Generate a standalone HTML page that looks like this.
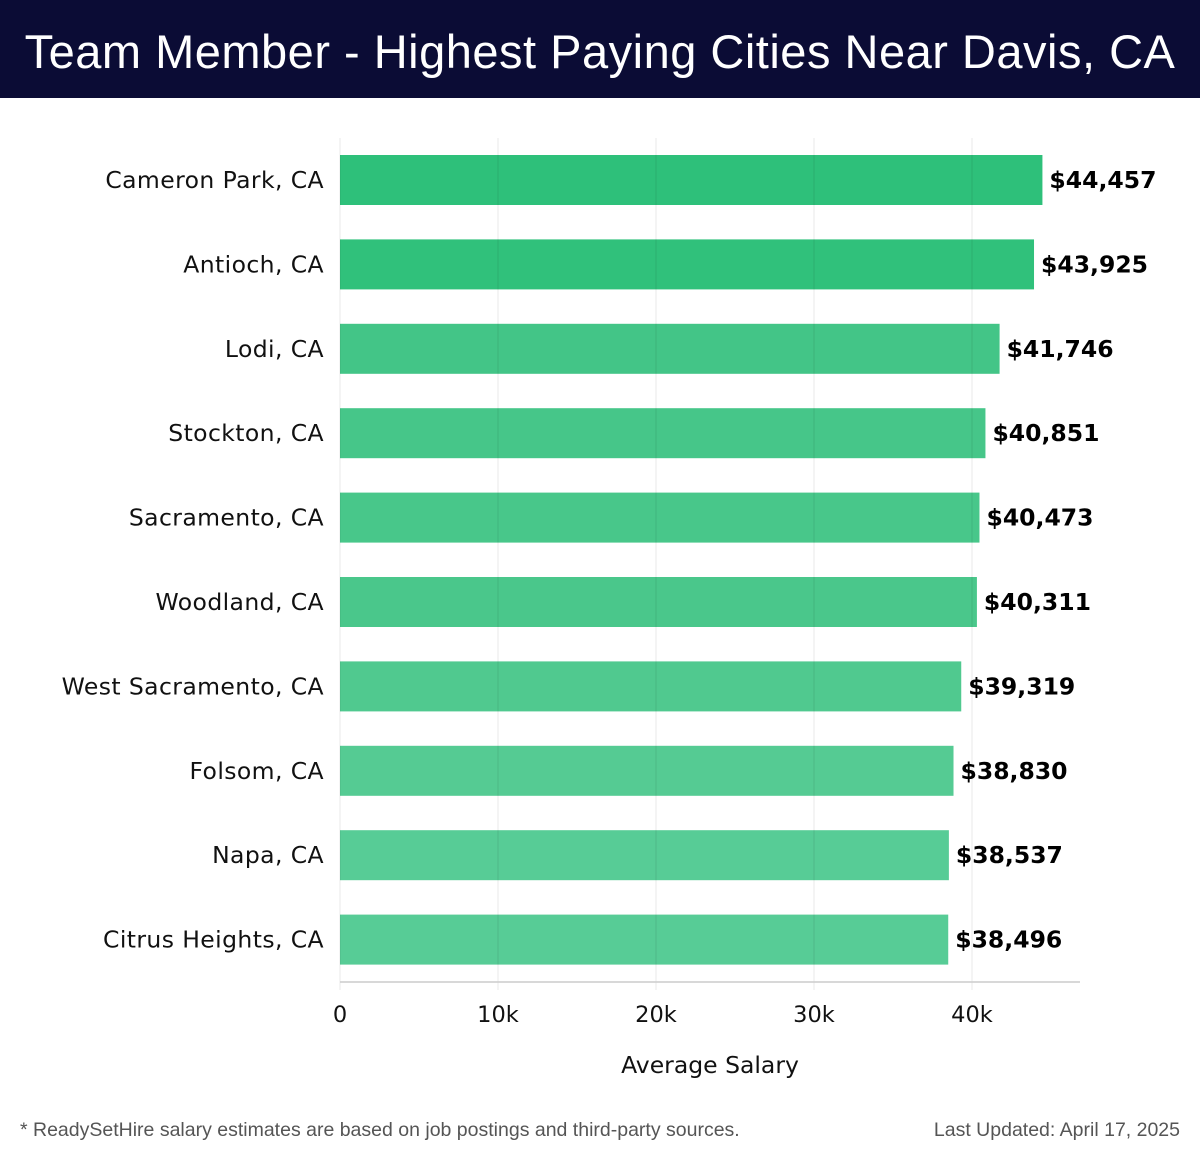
<!DOCTYPE html>
<html><head><meta charset="utf-8">
<style>
body{margin:0;width:1200px;height:1158px;background:#fff;font-family:"DejaVu Sans","Liberation Sans",sans-serif;overflow:hidden;position:relative}
#hdr{position:absolute;left:0;top:0;width:1200px;height:98px;background:#0b0c35;color:#fff;font-size:47px;font-family:"Liberation Sans",sans-serif;line-height:104px;text-align:center;letter-spacing:0.5px;white-space:nowrap}
.foot{position:absolute;top:1119px;font-size:19.5px;color:#555;font-family:"Liberation Sans",sans-serif;white-space:nowrap}
</style></head><body>
<div id="hdr">Team Member - Highest Paying Cities Near Davis, CA</div>
<svg id="chart" width="1200" height="1158" style="position:absolute;left:0;top:0"></svg>
<div class="foot" style="left:20px">* ReadySetHire salary estimates are based on job postings and third-party sources.</div>
<div class="foot" style="right:20px">Last Updated: April 17, 2025</div>
<script>
const cities=["Cameron Park, CA","Antioch, CA","Lodi, CA","Stockton, CA","Sacramento, CA","Woodland, CA","West Sacramento, CA","Folsom, CA","Napa, CA","Citrus Heights, CA"];
const salaries=[44457,43925,41746,40851,40473,40311,39319,38830,38537,38496];
const ticks=[0,10000,20000,30000,40000];
const tickLabels=["0","10k","20k","30k","40k"];
const colors=["#2ec07a","#30c17b","#43c587","#46c689","#48c78a","#4ac78b","#50c98f","#55cb93","#57cc96","#57cc96"];
const NS="http://www.w3.org/2000/svg";
const svg=document.getElementById('chart');
const x0=340,pxPer=158/10000,top0=138,step=84.4,bh=50;
const xs=v=>x0+v*pxPer;
const yc=i=>180+i*step;
function mk(t,a){const e=document.createElementNS(NS,t);for(const k in a)e.setAttribute(k,a[k]);svg.appendChild(e);return e;}
cities.forEach((c,i)=>{
 const r=mk('rect',{x:x0,y:yc(i)-bh/2,width:xs(salaries[i])-x0,height:bh,fill:colors[i]});
 
 
 const l=mk('text',{x:324,y:yc(i)+8,'text-anchor':'end','font-size':23.5,fill:'#111','letter-spacing':0.4});
 l.textContent=c;
 
 
 const v=mk('text',{x:xs(salaries[i])+7,y:yc(i)+8,'font-size':23.5,'font-weight':'bold',fill:'#000'});
 v.textContent='$'+salaries[i].toLocaleString('en-US');
 
 
});
ticks.forEach((t,i)=>{
 const g=mk('line',{x1:xs(t),x2:xs(t),y1:top0,y2:990,stroke:'#000','stroke-opacity':0.09,'stroke-width':1});
 
 
 const tx=mk('text',{x:xs(t),y:1022,'text-anchor':'middle','font-size':22.5,fill:'#111'});
 tx.textContent=tickLabels[i];
 
 
});
const ax=mk('line',{x1:x0,x2:1080,y1:982,y2:982,stroke:'#cccccc','stroke-width':1.5});


const at=mk('text',{x:710,y:1073,'text-anchor':'middle','font-size':23.5,fill:'#111'});
at.textContent='Average Salary';


</script>
</body></html>
